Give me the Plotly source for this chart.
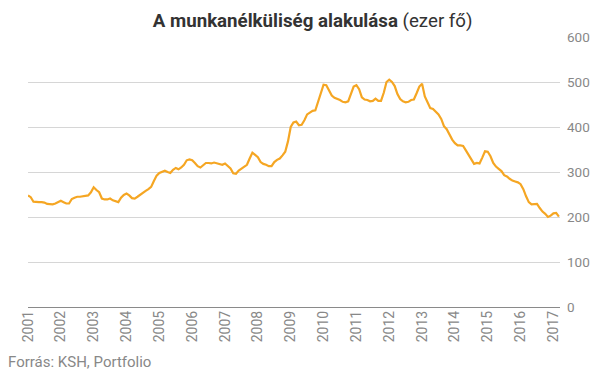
import plotly.graph_objects as go

years = list(range(2001, 2018))
unemployed = {
    2001: [248, 244, 234, 233, 233, 233, 232, 229, 228, 228, 230, 233],
    2002: [236, 233, 230, 230, 240, 243, 245, 245, 246, 247, 248, 255],
    2003: [266, 260, 255, 241, 239, 239, 241, 237, 235, 233, 243, 249],
    2004: [252, 248, 242, 241, 245, 250, 255, 258, 262, 267, 280, 292],
    2005: [298, 301, 303, 300, 298, 305, 309, 306, 310, 316, 326, 328],
    2006: [326, 320, 313, 310, 315, 320, 320, 319, 321, 319, 318, 316],
    2007: [319, 314, 308, 297, 296, 303, 308, 311, 316, 330, 343, 338],
    2008: [333, 322, 318, 316, 313, 313, 322, 327, 330, 337, 345, 368],
    2009: [400, 410, 412, 404, 405, 415, 428, 432, 436, 437, 455, 475],
    2010: [494, 493, 480, 470, 465, 463, 460, 456, 455, 457, 472, 490],
    2011: [493, 484, 466, 461, 460, 457, 458, 463, 458, 458, 476, 500],
    2012: [505, 500, 491, 473, 462, 457, 455, 456, 460, 461, 475, 490],
    2013: [496, 468, 455, 442, 440, 435, 428, 418, 402, 395, 382, 372],
    2014: [364, 359, 359, 358, 348, 338, 325, 318, 320, 319, 332, 346],
    2015: [345, 335, 320, 312, 307, 302, 293, 290, 285, 281, 279, 277],
    2016: [273, 262, 246, 233, 228, 229, 229, 220, 212, 207, 200, 203],
    2017: [208, 209, 201],
}
y_ticks = [0, 100, 200, 300, 400, 500, 600]

x, y = [], []
for yr in years:
    for m, v in enumerate(unemployed[yr]):
        x.append(yr + m / 12)
        y.append(v)

fig = go.Figure()
fig.add_trace(go.Scatter(x=x, y=y, mode="lines",
                         line=dict(color="#F5A623", width=2.2),
                         hoverinfo="skip"))

fig.update_layout(
    width=605, height=378,
    margin=dict(l=14, r=53, t=29, b=79),
    paper_bgcolor="white", plot_bgcolor="white",
    showlegend=False,
    font=dict(family="Roboto, sans-serif", color="#888888", size=13),
    title=dict(text="<b>A munkanélküliség alakulása</b> (ezer fő)",
               x=0.5036, xanchor="center", y=0.966, yanchor="middle",
               font=dict(family="Roboto, sans-serif", size=18.7, color="#333333")),
    xaxis=dict(range=[2001, 2017.2], tickvals=years, ticktext=[str(v) for v in years],
               tickangle=-90, showgrid=False, zeroline=False, showline=False,
               ticks="", tickfont=dict(size=14, color="#888888")),
    yaxis=dict(range=[0, 600], side="right", tickvals=y_ticks,
               showgrid=True, gridcolor="#d6d6d6", gridwidth=1,
               zeroline=True, zerolinecolor="#8a8a8a", zerolinewidth=1,
               ticks="", ticklabelstandoff=6,
               tickfont=dict(size=13.5, color="#888888")),
    annotations=[dict(text="Forrás: KSH, Portfolio", xref="paper", yref="paper",
                      x=-22/538, y=-(362-307)/270, xanchor="left", yanchor="middle",
                      showarrow=False, font=dict(size=15, color="#888888"))],
)

fig.write_html("out.html")
